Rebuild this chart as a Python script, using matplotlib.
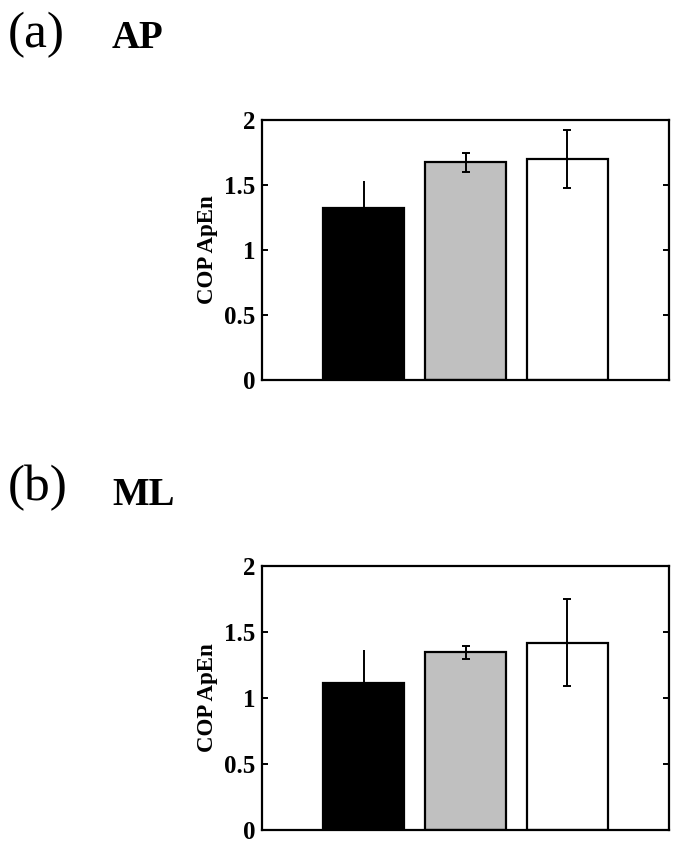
import numpy as np
import matplotlib
matplotlib.use("Agg")
import matplotlib.pyplot as plt

# group values
groups = ["group 1", "group 2", "group 3"]
bar_colors = ["black", "#c0c0c0", "white"]
cap_sizes = [0, 3, 3]

ap_mean = [1.32, 1.675, 1.70]
ap_err = [0.21, 0.075, 0.22]

ml_mean = [1.115, 1.345, 1.42]
ml_err = [0.245, 0.05, 0.33]

y_ticks = [0, 0.5, 1, 1.5, 2]
y_tick_labels = ["0", "0.5", "1", "1.5", "2"]

plt.rcParams['font.family'] = ['Liberation Serif', 'DejaVu Serif']


def draw_panel(ax, means, errs):
    x = np.arange(1, len(means) + 1)
    ax.bar(x, means, width=0.8, color=bar_colors, edgecolor="black", linewidth=1.6)
    for xi, m, e, cs in zip(x, means, errs, cap_sizes):
        ax.errorbar(xi, m, yerr=e, fmt="none", ecolor="black", elinewidth=1.4,
                    capsize=cs, capthick=1.4)
    ax.set_xlim(0, 4)
    ax.set_ylim(0, 2)
    ax.set_xticks([])
    ax.set_yticks(y_ticks)
    ax.set_yticklabels(y_tick_labels, fontsize=18, fontweight="bold")
    ax.tick_params(axis="y", direction="in", length=4, width=1.4, right=True, pad=5)
    ax.set_ylabel("COP ApEn", fontsize=16.5, fontweight="bold", labelpad=4)
    for sp in ax.spines.values():
        sp.set_linewidth(1.6)


fig = plt.figure(figsize=(6.83, 8.52), dpi=100)

ax1 = fig.add_axes([262 / 683, 1 - 380 / 852, 407 / 683, 260 / 852])
draw_panel(ax1, ap_mean, ap_err)

ax2 = fig.add_axes([262 / 683, 1 - 830 / 852, 407 / 683, 264 / 852])
draw_panel(ax2, ml_mean, ml_err)

fig.text(8 / 683, 1 - 47 / 852, "(a)", fontsize=37, va="baseline", ha="left")
fig.text(112 / 683, 1 - 48 / 852, "AP", fontsize=28, fontweight="bold", va="baseline", ha="left")
fig.text(8 / 683, 1 - 500 / 852, "(b)", fontsize=37, va="baseline", ha="left")
fig.text(112 / 683, 1 - 505 / 852, "ML", fontsize=28, fontweight="bold", va="baseline", ha="left")

fig.savefig("out.png", dpi=100)
